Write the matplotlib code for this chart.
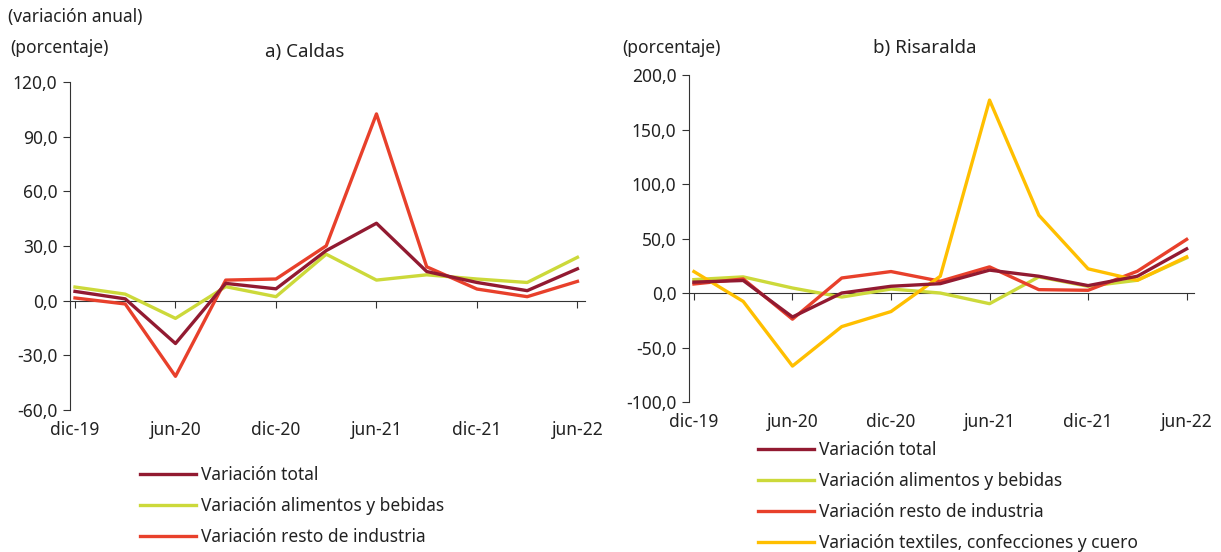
import matplotlib
matplotlib.use("Agg")
import matplotlib.pyplot as plt
import matplotlib.ticker as mticker

plt.rcParams['font.family'] = ['Noto Sans', 'DejaVu Sans']
plt.rcParams['font.size'] = 12
plt.rcParams['text.color'] = '#222222'
plt.rcParams['xtick.color'] = '#222222'
plt.rcParams['ytick.color'] = '#222222'

quarters = ['dic-19', 'mar-20', 'jun-20', 'sep-20', 'dic-20', 'mar-21',
            'jun-21', 'sep-21', 'dic-21', 'mar-22', 'jun-22']

# a) Caldas
caldas_total = [5.1, 1.0, -23.5, 9.5, 6.5, 27.5, 42.5, 16.0, 10.0, 5.5, 17.5]
caldas_alim = [7.5, 3.6, -9.7, 7.7, 2.2, 25.5, 11.3, 14.2, 11.9, 10.0, 23.8]
caldas_resto = [1.5, -1.8, -41.5, 11.3, 11.9, 30.1, 102.5, 18.6, 6.4, 2.2, 10.6]

# b) Risaralda
ris_total = [10.0, 11.5, -22.0, 0.0, 6.2, 8.6, 21.0, 15.4, 6.8, 15.4, 40.5]
ris_alim = [12.3, 14.8, 4.6, -3.7, 3.7, 0.0, -9.8, 14.8, 6.2, 11.7, 32.3]
ris_resto = [8.3, 12.9, -24.0, 13.8, 19.7, 10.8, 24.0, 3.1, 2.5, 20.0, 49.2]
ris_text = [19.7, -7.7, -67.0, -30.8, -17.0, 15.4, 177.0, 71.4, 22.2, 11.7, 33.2]

tick_labels = quarters[::2]

C_TOTAL = '#921a31'
C_ALIM = '#ccd93a'
C_RESTO = '#e8402b'
C_TEXT = '#ffbf00'
AXCOL = '#333333'


def fmt(v, pos):
    return f"{v:.1f}".replace('.', ',')


def style_axis(ax, ylim, yticks, xlim):
    ax.set_ylim(*ylim)
    ax.set_xlim(*xlim)
    ax.set_yticks(yticks)
    ax.yaxis.set_major_formatter(mticker.FuncFormatter(fmt))
    ax.tick_params(axis='y', direction='out', length=5, width=0.8,
                   color=AXCOL, pad=4, labelsize=12.5)
    for s in ['top', 'right']:
        ax.spines[s].set_visible(False)
    ax.spines['left'].set_color(AXCOL)
    ax.spines['left'].set_linewidth(0.8)
    # category axis drawn on the zero line
    ax.spines['bottom'].set_position(('data', 0))
    ax.spines['bottom'].set_color(AXCOL)
    ax.spines['bottom'].set_linewidth(0.8)
    x = list(range(len(quarters)))
    ax.set_xticks(x[::2])
    ax.set_xticklabels([''] * len(tick_labels))
    ax.tick_params(axis='x', direction='out', length=5, width=0.8, color=AXCOL)
    # labels at the bottom of the plot
    sec = ax.secondary_xaxis(location=0)
    sec.set_xticks(x[::2])
    sec.set_xticklabels(tick_labels)
    sec.tick_params(axis='x', length=0, pad=8, labelsize=12.5)
    sec.spines['bottom'].set_visible(False)


fig = plt.figure(figsize=(12.21, 5.52), dpi=100)

ax1 = fig.add_axes([0.0573, 0.2572, 0.4218, 0.5942])
x = list(range(len(quarters)))
ax1.plot(x, caldas_total, color=C_TOTAL, lw=2.4, label='Variación total', zorder=4)
ax1.plot(x, caldas_alim, color=C_ALIM, lw=2.4, label='Variación alimentos y bebidas', zorder=3)
ax1.plot(x, caldas_resto, color=C_RESTO, lw=2.4, label='Variación resto de industria', zorder=3)
style_axis(ax1, (-60, 120), [-60, -30, 0, 30, 60, 90, 120], (-0.1, 10.15))

ax2 = fig.add_axes([0.5643, 0.2717, 0.4136, 0.5924])
ax2.plot(x, ris_total, color=C_TOTAL, lw=2.4, label='Variación total', zorder=4)
ax2.plot(x, ris_alim, color=C_ALIM, lw=2.4, label='Variación alimentos y bebidas', zorder=3)
ax2.plot(x, ris_resto, color=C_RESTO, lw=2.4, label='Variación resto de industria', zorder=3)
ax2.plot(x, ris_text, color=C_TEXT, lw=2.4, label='Variación textiles, confecciones y cuero', zorder=3)
style_axis(ax2, (-100, 200), [-100, -50, 0, 50, 100, 150, 200], (-0.1, 10.15))

fig.text(8 / 1221, 1 - 17 / 552, '(variación anual)', fontsize=12.5, va='center', ha='left')
fig.text(10 / 1221, 1 - 48 / 552, '(porcentaje)', fontsize=12.5, va='center', ha='left')
fig.text(622 / 1221, 1 - 48 / 552, '(porcentaje)', fontsize=12.5, va='center', ha='left')
fig.text(305 / 1221, 1 - 52 / 552, 'a) Caldas', fontsize=13.5, va='center', ha='center')
fig.text(925 / 1221, 1 - 48 / 552, 'b) Risaralda', fontsize=13.5, va='center', ha='center')

leg_kw = dict(frameon=False, handlelength=3.2, handletextpad=0.3,
              labelspacing=0.75, fontsize=12.5, borderaxespad=0, borderpad=0)
ax1.legend(loc='upper left', bbox_to_anchor=(140 / 1221, 1 - 466 / 552),
           bbox_transform=fig.transFigure, **leg_kw)
ax2.legend(loc='upper left', bbox_to_anchor=(758 / 1221, 1 - 441 / 552),
           bbox_transform=fig.transFigure, **leg_kw)

fig.savefig('out.png', dpi=100)
